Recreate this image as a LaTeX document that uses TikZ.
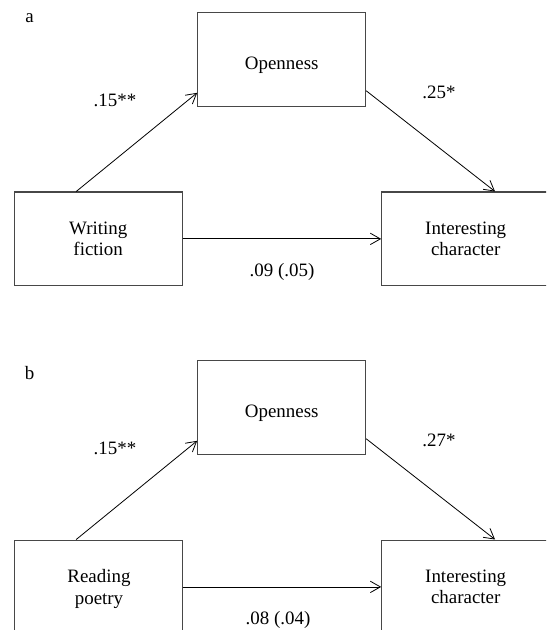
\documentclass[tikz,border=0pt]{standalone}
\usepackage{fontspec}
\setmainfont{Liberation Serif}
\usetikzlibrary{arrows.meta}
\tikzset{
  box/.style={draw=black!72, line width=0.8pt, minimum width=126pt, minimum height=70.3pt, inner sep=0pt, align=center, font=\fontsize{14.2pt}{16.3pt}\selectfont},
  lbl/.style={inner sep=0pt, font=\fontsize{14.2pt}{16.3pt}\selectfont},
  path/.style={draw=black, line width=0.6pt, -{Straight Barb[length=7.5pt,width=8.5pt,line width=0.6pt]}}
}
\begin{document}
\begin{tikzpicture}[x=0.75pt,y=-0.75pt]
\useasboundingbox (0,0) rectangle (546,630);
\clip (0,0) rectangle (546,630);
% panel a
\node[lbl] (la) at (29.6,18.3) {a};
\node[box, label={[lbl,yshift=-4.5pt]center:Openness}] (opa) at (281.7,59.4) {};
\node[box] (wfa) at (98.2,238.9) {Writing\\fiction};
\node[box] (ica) at (465.7,238.9) {Interesting\\character};
\draw[path] ([xshift=-16.5pt]wfa.north) -- ([yshift=10.5pt]opa.south west);
\draw[path] ([yshift=12pt]opa.south east) -- ([xshift=22pt]ica.north);
\draw[path] (wfa.east) -- (ica.west);
\node[lbl] (ca1) at (115,100) {.15**};
\node[lbl] (ca2) at (439,92.7) {.25*};
\node[lbl] (ca3) at (282,271.7) {.09 (.05)};
% panel b
\node[lbl] (lb) at (29.6,373.3) {b};
\node[box, label={[lbl,yshift=-4.5pt]center:Openness}] (opb) at (281.7,407.4) {};
\node[box, label={[lbl,align=center,xshift=0.6pt,yshift=-1.7pt]center:Reading\\poetry}] (wfb) at (98.2,586.9) {};
\node[box] (icb) at (465.7,586.9) {Interesting\\character};
\draw[path] ([xshift=-16.5pt]wfb.north) -- ([yshift=10.5pt]opb.south west);
\draw[path] ([yshift=12pt]opb.south east) -- ([xshift=22pt]icb.north);
\draw[path] (wfb.east) -- (icb.west);
\node[lbl] (cb1) at (115,448) {.15**};
\node[lbl] (cb2) at (439,440.7) {.27*};
\node[lbl] (cb3) at (278,620) {.08 (.04)};
\end{tikzpicture}
\end{document}
